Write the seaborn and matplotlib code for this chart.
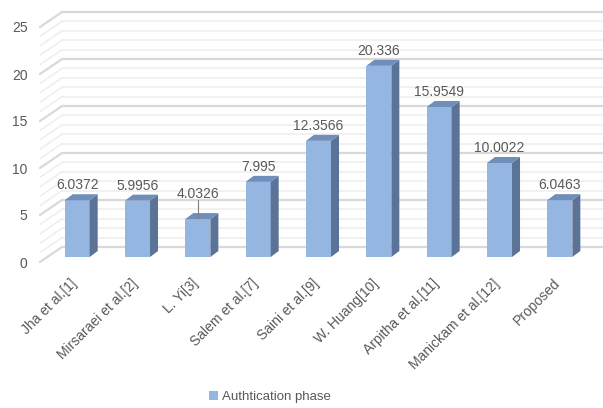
import numpy as np
import pandas as pd
import seaborn as sns
import matplotlib
matplotlib.use("Agg")
import matplotlib.pyplot as plt
from matplotlib.transforms import offset_copy, IdentityTransform, ScaledTranslation
from matplotlib.patches import Polygon, Patch

categories = ["Jha et al.[1]", "Mirsaraei et al.[2]", "L. Yi[3]", "Salem et al.[7]",
              "Saini et al.[9]", "W. Huang[10]", "Arpitha et al.[11]",
              "Manickam et al.[12]", "Proposed"]
values = [6.0372, 5.9956, 4.0326, 7.995, 12.3566, 20.336, 15.9549, 10.0022, 6.0463]
value_labels = ["6.0372", "5.9956", "4.0326", "7.995", "12.3566", "20.336",
                "15.9549", "10.0022", "6.0463"]
series_name = "Authtication phase"
y_ticks = [0, 5, 10, 15, 20, 25]
minor_levels = list(range(0, 26))

FRONT = "#94b6e0"
SIDE = "#5a7396"
TOP = "#6f8eb9"
TEXT = "#595959"

sns.set_theme(style="white")
plt.rcParams["font.family"] = ["Liberation Sans", "DejaVu Sans"]

fig = plt.figure(figsize=(6.03, 4.08), dpi=100)
W, H = 603, 408
ax = fig.add_axes([40 / W, 146 / H, 543 / W, 235 / H])

df = pd.DataFrame({"Method": categories, "Value": values})
sns.barplot(data=df, x="Method", y="Value", color=FRONT, saturation=1,
            width=0.415, ax=ax, zorder=3, linewidth=0)
ax.set_xlim(-0.5, len(categories) - 0.5)
ax.set_ylim(0, 25)
for s in ax.spines.values():
    s.set_visible(False)
ax.set_xlabel("")
ax.set_ylabel("")

# perspective offsets (pixels)
BX, BY = 7, 5        # bar front plane offset
DX, DY = 8, 6        # bar depth
WX, WY = 22, 15      # back wall offset

# back wall grid + left wall diagonals
for v in minor_levels:
    major = v % 5 == 0
    col = "#d9d9d9" if major else "#eeeeee"
    lw = 1.6 if major else 1.1
    ax.plot([-0.5, len(categories) - 0.5], [v, v], color=col, lw=lw,
            transform=offset_copy(ax.transData, fig=fig, x=WX, y=WY, units="dots"),
            clip_on=False, zorder=1)
    p0 = ax.transData.transform((-0.5, v))
    ax.plot([p0[0], p0[0] + WX], [p0[1], p0[1] + WY], color=col, lw=lw,
            transform=IdentityTransform(), clip_on=False, zorder=1)

# shift bars and add 3D faces
bar_tr = offset_copy(ax.transData, fig=fig, x=BX, y=BY, units="dots")
for p in ax.patches:
    p.set_transform(bar_tr)
    p.set_clip_on(False)
    x0, x1 = p.get_x(), p.get_x() + p.get_width()
    h = p.get_height()
    a = ax.transData.transform((x0, 0)) + (BX, BY)
    b = ax.transData.transform((x1, h)) + (BX, BY)
    side = Polygon([(b[0], a[1]), (b[0], b[1]), (b[0] + DX, b[1] + DY), (b[0] + DX, a[1] + DY)],
                   closed=True, facecolor=SIDE, edgecolor="none",
                   transform=IdentityTransform(), clip_on=False, zorder=3)
    top = Polygon([(a[0], b[1]), (b[0], b[1]), (b[0] + DX, b[1] + DY), (a[0] + DX, b[1] + DY)],
                  closed=True, facecolor=TOP, edgecolor="none",
                  transform=IdentityTransform(), clip_on=False, zorder=3)
    ax.add_patch(side)
    ax.add_patch(top)

# data labels
for i, (v, lab) in enumerate(zip(values, value_labels)):
    if lab == "4.0326":
        ax.text(i, v, lab, ha="center", va="center", fontsize=10, color=TEXT,
                transform=offset_copy(ax.transData, fig=fig, x=BX, y=BY + 25, units="dots"),
                zorder=5)
        pt = ax.transData.transform((i, v))
        ax.plot([pt[0] + BX, pt[0] + BX], [pt[1] + BY + 1, pt[1] + BY + 19],
                color="#7f7f7f", lw=0.8, transform=IdentityTransform(),
                clip_on=False, zorder=5)
    else:
        ax.text(i, v, lab, ha="center", va="center", fontsize=10, color=TEXT,
                transform=offset_copy(ax.transData, fig=fig, x=BX, y=BY + 15, units="dots"),
                zorder=5)

ax.set_yticks(y_ticks)
ax.set_yticklabels([str(t) for t in y_ticks], fontsize=10, color=TEXT)
ax.set_xticks(range(len(categories)))
ax.set_xticklabels(categories, rotation=45, ha="right", va="center",
                   rotation_mode="anchor", fontsize=10, color=TEXT)
ax.tick_params(axis="y", length=0, pad=9)
ax.tick_params(axis="x", length=0, pad=14)
shift = ScaledTranslation(5 / 100, 0, fig.dpi_scale_trans)
for lbl in ax.get_xticklabels():
    lbl.set_transform(lbl.get_transform() + shift)
ax.grid(False)

handle = Patch(facecolor=FRONT, edgecolor="none")
fig.legend([handle], [series_name], loc="center", bbox_to_anchor=(270 / W, 11 / H),
           frameon=False, fontsize=9.5, handlelength=0.7, handleheight=0.7,
           handletextpad=0.3, labelcolor=TEXT)

fig.savefig("out.png", dpi=100, facecolor="white")
